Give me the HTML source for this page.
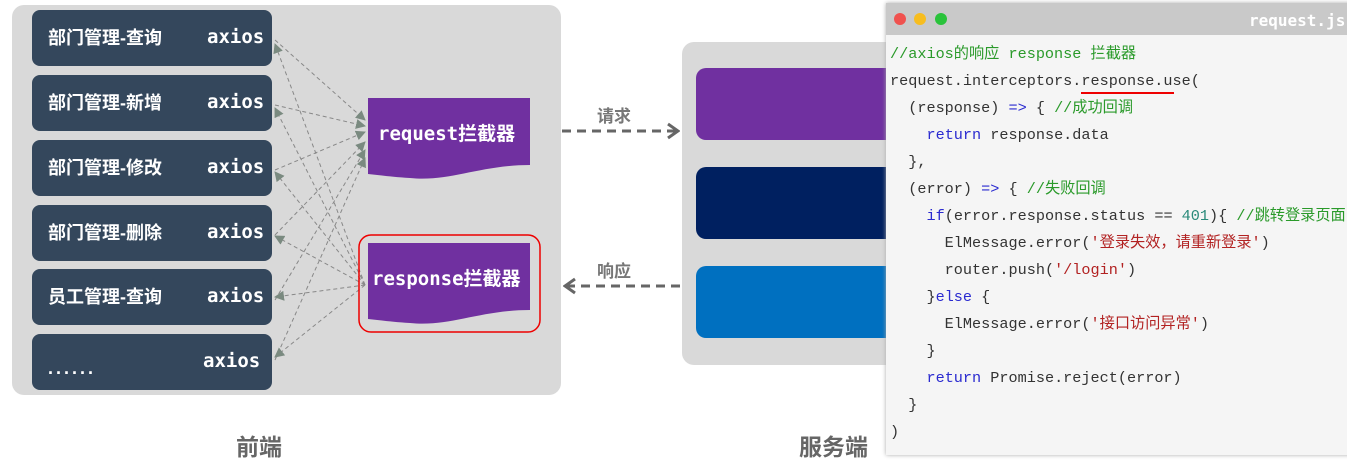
<!DOCTYPE html>
<html><head><meta charset="utf-8"><style>
body{margin:0;width:1347px;height:467px;background:#fff;position:relative;overflow:hidden;font-family:"Liberation Sans","Noto Sans CJK SC",sans-serif}
.a{position:absolute}
.box{position:absolute;left:32px;width:240px;height:56px;background:#34475c;border-radius:8px;color:#fff;font-weight:bold;font-size:18px;line-height:56px}
.box .l{position:absolute;left:16px;top:0}
.box .r{position:absolute;left:175px;top:-1px;font-family:"DejaVu Sans Mono","Liberation Mono",monospace;font-size:19px}
.code{position:absolute;left:886px;top:3px;width:470px;height:452px;background:#f5f5f5;box-shadow:0 0 4px #aaa}
.ln{position:absolute;left:4px;font-family:"Liberation Mono","Noto Sans CJK SC",monospace;font-size:15.2px;line-height:20px;height:20px;color:#333;white-space:pre}
.k{color:#2a2ad0}.c{color:#2a9a2a}.s{color:#b22222}.n{color:#2a8a7a}
</style></head><body>
<div class="a" style="left:12px;top:5px;width:549px;height:390px;background:#d9d9d9;border-radius:12px"></div>
<div class="box" style="top:10px"><span class="l">部门管理-查询</span><span class="r">axios</span></div>
<div class="box" style="top:75px"><span class="l">部门管理-新增</span><span class="r">axios</span></div>
<div class="box" style="top:140px"><span class="l">部门管理-修改</span><span class="r">axios</span></div>
<div class="box" style="top:205px"><span class="l">部门管理-删除</span><span class="r">axios</span></div>
<div class="box" style="top:269px"><span class="l">员工管理-查询</span><span class="r">axios</span></div>
<div class="box" style="top:334px"><span class="l" style="top:6px;letter-spacing:3px">......</span><span class="r" style="left:171px">axios</span></div>
<svg class="a" style="left:0;top:0" width="1347" height="467">
<defs><marker id="m" markerUnits="userSpaceOnUse" markerWidth="10" markerHeight="10" refX="9" refY="5" orient="auto"><path d="M0,0L10,5L0,10z" fill="#7a8a80"/></marker>
<marker id="b" markerUnits="userSpaceOnUse" markerWidth="14" markerHeight="18" refX="12" refY="9" orient="auto"><path d="M2,2L12,9L2,16" fill="none" stroke="#666" stroke-width="3"/></marker></defs>
<g stroke="#888" stroke-width="1" stroke-dasharray="4,3" fill="none">
<line x1="275" y1="40" x2="365" y2="120" marker-end="url(#m)"/>
<line x1="275" y1="105" x2="365" y2="126" marker-end="url(#m)"/>
<line x1="275" y1="170" x2="365" y2="132" marker-end="url(#m)"/>
<line x1="275" y1="235" x2="365" y2="142" marker-end="url(#m)"/>
<line x1="275" y1="300" x2="365" y2="150" marker-end="url(#m)"/>
<line x1="275" y1="360" x2="365" y2="158" marker-end="url(#m)"/>
<line x1="365" y1="285" x2="275" y2="44" marker-end="url(#m)"/>
<line x1="365" y1="285" x2="275" y2="108" marker-end="url(#m)"/>
<line x1="365" y1="285" x2="275" y2="172" marker-end="url(#m)"/>
<line x1="365" y1="285" x2="275" y2="236" marker-end="url(#m)"/>
<line x1="365" y1="285" x2="275" y2="297" marker-end="url(#m)"/>
<line x1="365" y1="285" x2="275" y2="357" marker-end="url(#m)"/>
</g>
<path d="M368,98H530V165C480,165 450,182 410,178C390,177 380,175 368,174Z" fill="#7030a0"/>
<path d="M368,243H530V310C480,310 450,327 410,323C390,322 380,320 368,319Z" fill="#7030a0"/>
<rect x="359" y="235" width="181" height="97" rx="12" fill="none" stroke="#e00" stroke-width="1.5"/>
<line x1="562" y1="131" x2="678" y2="131" stroke="#666" stroke-width="3" stroke-dasharray="9,6" marker-end="url(#b)"/>
<line x1="680" y1="286" x2="565" y2="286" stroke="#666" stroke-width="3" stroke-dasharray="9,6" marker-end="url(#b)"/>
</svg>
<div class="a" style="left:378px;top:119px;color:#fff;font-weight:bold;font-size:19px"><span style="font-family:'DejaVu Sans Mono',monospace">request</span>拦截器</div>
<div class="a" style="left:372px;top:264px;color:#fff;font-weight:bold;font-size:19px"><span style="font-family:'DejaVu Sans Mono',monospace">response</span>拦截器</div>
<div class="a" style="left:597px;top:102px;color:#777;font-weight:bold;font-size:17px">请求</div>
<div class="a" style="left:597px;top:257px;color:#777;font-weight:bold;font-size:17px">响应</div>
<div class="a" style="left:682px;top:42px;width:230px;height:323px;background:#d9d9d9;border-radius:12px"></div>
<div class="a" style="left:696px;top:68px;width:210px;height:72px;background:#7030a0;border-radius:10px"></div>
<div class="a" style="left:696px;top:167px;width:210px;height:72px;background:#002060;border-radius:10px"></div>
<div class="a" style="left:696px;top:266px;width:210px;height:72px;background:#0070c0;border-radius:10px"></div>
<div class="a" style="left:236px;top:428px;color:#666;font-weight:bold;font-size:23px">前端</div>
<div class="a" style="left:799px;top:428px;color:#666;font-weight:bold;font-size:23px">服务端</div>
<div class="code">
<div class="a" style="left:0;top:0;width:470px;height:32px;background:#c9c9c9"></div>
<div class="a" style="left:8px;top:10px;width:12px;height:12px;border-radius:6px;background:#f0524f"></div>
<div class="a" style="left:28px;top:10px;width:12px;height:12px;border-radius:6px;background:#f7bd1f"></div>
<div class="a" style="left:49px;top:10px;width:12px;height:12px;border-radius:6px;background:#2ac33b"></div>
<div class="a" style="left:363px;top:8px;color:#fff;font-weight:bold;font-size:16px;font-family:'DejaVu Sans Mono',monospace">request.js</div>
<div class="ln c" style="top:41px">//axios的响应 response 拦截器</div>
<div class="ln" style="top:68px">request.interceptors.response.use(</div>
<div class="a" style="left:195px;top:89px;width:93px;height:2px;background:#e00"></div>
<div class="ln" style="top:95px">  (response) <span class="k">=&gt;</span> { <span class="c">//成功回调</span></div>
<div class="ln" style="top:122px">    <span class="k">return</span> response.data</div>
<div class="ln" style="top:149px">  },</div>
<div class="ln" style="top:176px">  (error) <span class="k">=&gt;</span> { <span class="c">//失败回调</span></div>
<div class="ln" style="top:203px">    <span class="k">if</span>(error.response.status == <span class="n">401</span>){ <span class="c">//跳转登录页面</span></div>
<div class="ln" style="top:230px">      ElMessage.error(<span class="s">'登录失效，请重新登录'</span>)</div>
<div class="ln" style="top:257px">      router.push(<span class="s">'/login'</span>)</div>
<div class="ln" style="top:284px">    }<span class="k">else</span> {</div>
<div class="ln" style="top:311px">      ElMessage.error(<span class="s">'接口访问异常'</span>)</div>
<div class="ln" style="top:338px">    }</div>
<div class="ln" style="top:365px">    <span class="k">return</span> Promise.reject(error)</div>
<div class="ln" style="top:392px">  }</div>
<div class="ln" style="top:419px">)</div>
</div>
</body></html>
